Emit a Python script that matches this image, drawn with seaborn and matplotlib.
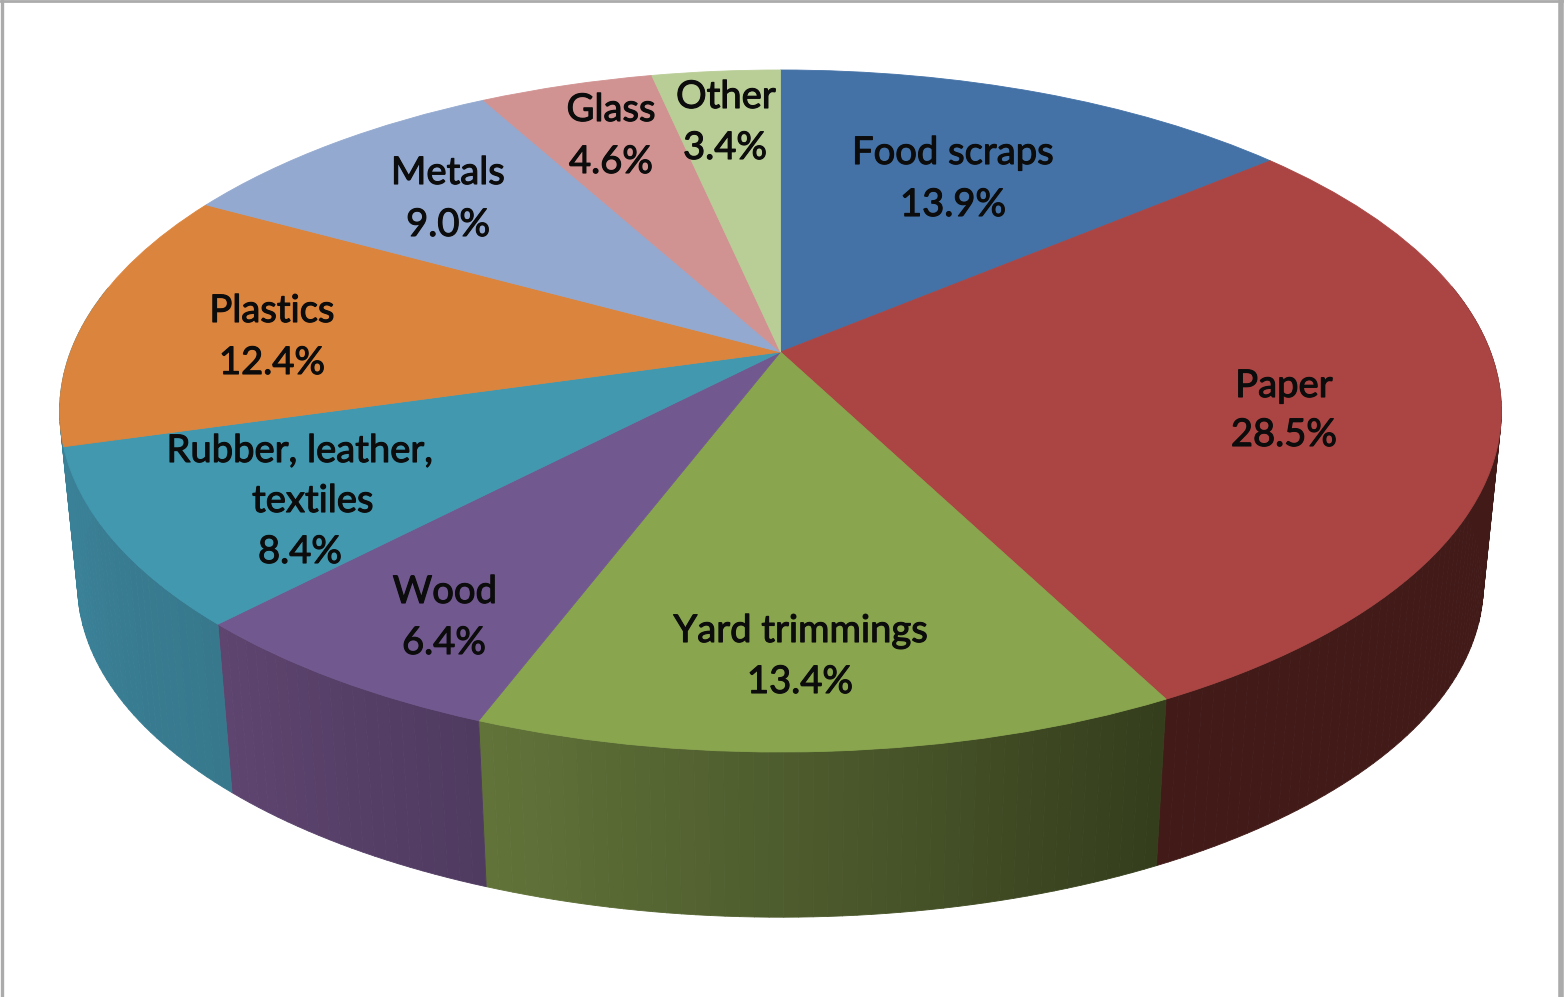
import numpy as np
import matplotlib
matplotlib.use("Agg")
import matplotlib.pyplot as plt
import matplotlib.patheffects as pe
from matplotlib.collections import PolyCollection
from matplotlib.colors import to_rgb
from matplotlib.transforms import Transform
import seaborn as sns

# ---- data ----
categories = ["Food scraps", "Paper", "Yard trimmings", "Wood",
              "Rubber, leather, textiles", "Plastics", "Metals", "Glass", "Other"]
values = [13.9, 28.5, 13.4, 6.4, 8.4, 12.4, 9.0, 4.6, 3.4]

# ---- style ----
top_colors = ["#4472A7", "#AA4543", "#89A54E", "#71588F", "#4198AF",
              "#DB843D", "#93A9CF", "#D19292", "#B9CD96"]
wall_colors = [("#2D4C70", "#2D4C70"), ("#421B19", "#421B19"), ("#62743A", "#343D1C"),
               ("#5E4570", "#4F3A60"), ("#3A8198", "#37788C"), ("#3A8198", "#3A8198"),
               ("#6F80A0", "#6F80A0"), ("#9E6E6E", "#9E6E6E"), ("#8C9B72", "#8C9B72")]

# one list of text lines and one list of line centres (pixels) for every slice
label_lines = [["Food scraps"], ["Paper"], ["Yard trimmings"], ["Wood"],
               ["Rubber, leather,", "textiles"], ["Plastics"], ["Metals"], ["Glass"], ["Other"]]
label_centres = [[(953, 153), (953, 205)],
                 [(1284, 386), (1284, 435)],
                 [(801, 631), (800, 682)],
                 [(445, 592), (444, 643)],
                 [(300, 451), (313, 501), (300, 552)],
                 [(272, 311), (272, 363)],
                 [(448, 173), (448, 225)],
                 [(611, 110), (611, 162)],
                 [(726, 97), (725, 148)]]

WIDTH, HEIGHT = 1564, 997
CX, CY = 780.5, 352.0      # apex of the pie on the page
RX, RY, PERSP = 710.0, 330.8, 0.173
BASE_SCALE, BASE_SHIFT = 0.975, 184.0
FRAME = "#ABABAB"


def tilt(u, v):
    w = 1 + PERSP * v
    return CX + RX * u / w, CY - RY * v / w


def drop(x, y):
    return CX + BASE_SCALE * (x - CX), BASE_SCALE * y + BASE_SHIFT


class Tilt(Transform):
    """Perspective view of the pie's unit circle."""
    input_dims = output_dims = 2
    is_separable = False
    has_inverse = False

    def transform_non_affine(self, values):
        xy = np.asarray(values, float)
        return np.column_stack(tilt(xy[:, 0], xy[:, 1]))


sns.set_theme(style="white")
plt.rcParams["font.family"] = ["Lato", "DejaVu Sans"]
palette = sns.color_palette(top_colors)

fig = plt.figure(figsize=(WIDTH / 100, HEIGHT / 100), dpi=100, facecolor="white")
ax = fig.add_axes([0, 0, 1, 1])

wedges, _ = ax.pie(values, colors=palette, startangle=90, counterclock=False,
                   radius=1, center=(0, 0),
                   wedgeprops=dict(linewidth=0.6, zorder=3))
ax.set_aspect("auto")
ax.set_xlim(0, WIDTH)
ax.set_ylim(HEIGHT, 0)
ax.set_axis_off()

tilt_to_data = Tilt() + ax.transData
for wedge, colour in zip(wedges, palette):
    wedge.set_transform(tilt_to_data)
    wedge.set_edgecolor(colour)
    wedge.set_facecolor(colour)

# side wall: short quads along each slice's rim, shaded left to right
quads, shades = [], []
for wedge, (c_left, c_right) in zip(wedges, wall_colors):
    steps = max(int(abs(wedge.theta2 - wedge.theta1)), 2)
    angles = np.radians(np.linspace(wedge.theta1, wedge.theta2, steps + 1))
    c_left, c_right = np.array(to_rgb(c_left)), np.array(to_rgb(c_right))
    for i in range(steps):
        a0, a1 = angles[i], angles[i + 1]
        if np.sin(0.5 * (a0 + a1)) > 0.2:
            continue
        x0, y0 = tilt(np.cos(a0), np.sin(a0))
        x1, y1 = tilt(np.cos(a1), np.sin(a1))
        quads.append([(x0, y0), (x1, y1), drop(x1, y1), drop(x0, y0)])
        shades.append(tuple(c_left + (c_right - c_left) * (i + 0.5) / steps))
ax.add_collection(PolyCollection(quads, facecolors=shades, edgecolors=shades,
                                 linewidths=0.6, zorder=2))

# labels
halo = [pe.withStroke(linewidth=0.8, foreground="#0C0C0C")]
for name_lines, value, centres in zip(label_lines, values, label_centres):
    lines = name_lines + [f"{value:.1f}%"]
    for line, (x, y) in zip(lines, centres):
        ax.text(x, y, line, ha="center", va="center", fontsize=27.5,
                color="#0C0C0C", zorder=5, path_effects=halo)

# page frame
ax.axvline(1.5, color=FRAME, lw=2.4, zorder=6)
ax.axvline(1561, color=FRAME, lw=4, zorder=6)
ax.axhline(1, color=FRAME, lw=2, zorder=6)

fig.savefig("out.png", dpi=100, facecolor="white")
